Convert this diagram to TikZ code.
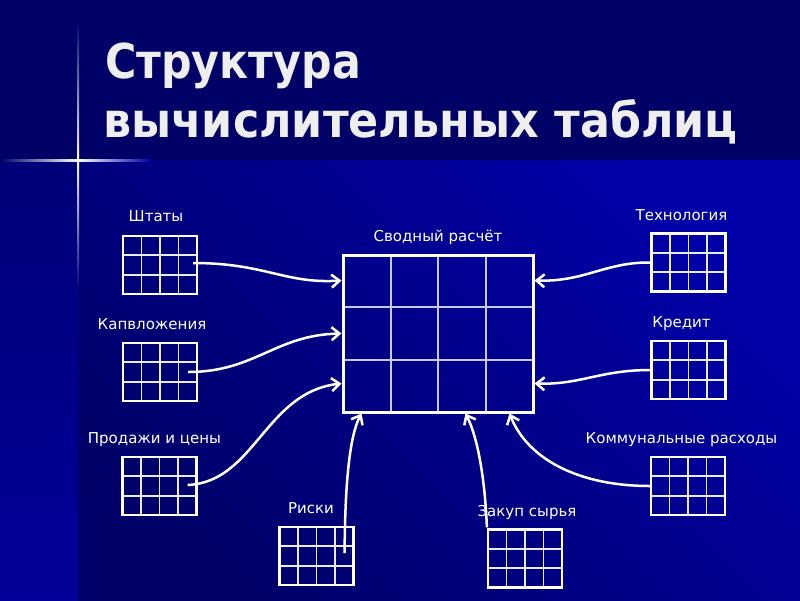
\documentclass[tikz,border=0pt]{standalone}
\usepackage{fontspec}
\setmainfont{DejaVu Sans}
\usetikzlibrary{arrows.meta,calc}
\definecolor{topbg}{HTML}{000066}
\definecolor{lowdark}{HTML}{000068}
\definecolor{lowbright}{HTML}{0000A8}
\definecolor{stripdark}{HTML}{000078}
\definecolor{stripbright}{HTML}{000098}
\definecolor{titlecol}{HTML}{EEEEEE}
\definecolor{innerline}{HTML}{C8C8E8}
\definecolor{glow}{HTML}{3A6AFF}
\begin{document}
\begin{tikzpicture}[x=1pt,y=-1pt,
  gridline/.style={line width=1.8pt,draw=white!92!blue},
  maingridline/.style={line width=2pt,draw=innerline},
  tbl/.style={draw=white,line width=2.2pt,minimum width=74pt,minimum height=58pt,inner sep=0pt,
    path picture={
      \foreach \f in {0.25,0.5,0.75}
        \draw[gridline] ($(path picture bounding box.north west)!\f!(path picture bounding box.north east)$) --
                        ($(path picture bounding box.south west)!\f!(path picture bounding box.south east)$);
      \foreach \f in {0.3333,0.6667}
        \draw[gridline] ($(path picture bounding box.north west)!\f!(path picture bounding box.south west)$) --
                        ($(path picture bounding box.north east)!\f!(path picture bounding box.south east)$);
    }},
  maintbl/.style={draw=white,line width=3pt,minimum width=190pt,minimum height=157pt,inner sep=0pt,
    path picture={
      \foreach \f in {0.25,0.5,0.75}
        \draw[maingridline] ($(path picture bounding box.north west)!\f!(path picture bounding box.north east)$) --
                        ($(path picture bounding box.south west)!\f!(path picture bounding box.south east)$);
      \foreach \f in {0.3333,0.6667}
        \draw[maingridline] ($(path picture bounding box.north west)!\f!(path picture bounding box.south west)$) --
                        ($(path picture bounding box.north east)!\f!(path picture bounding box.south east)$);
    }},
  lbl/.style={text=white,font=\fontsize{15}{18}\selectfont,inner sep=0pt,anchor=base},
  ttl/.style={text=titlecol,font=\fontsize{48}{56}\selectfont\bfseries,inner sep=0pt,anchor=base west},
  conn/.style={draw=white,line width=2.5pt,-{Straight Barb[length=8pt,width=13pt,line width=2.5pt]}}
]
\useasboundingbox (0,0) rectangle (800,600);
% background
\fill[topbg] (0,0) rectangle (800,160);
\shade[bottom color=lowdark,top color=lowbright,shading angle=-45] (78,160) rectangle (800,600);
\shade[top color=stripdark,bottom color=stripbright] (0,160) rectangle (78,600);
% glow lines
\shade[left color=topbg,right color=white] (0,159) rectangle (78,161.5);
\shade[left color=white,right color=lowbright] (78,159) rectangle (150,161.5);
\shade[top color=topbg,bottom color=white] (77,20) rectangle (79,160);
\shade[top color=white,bottom color=stripdark] (77,160) rectangle (79,290);
\fill[white] (78,160) circle (1.8);
% title
\node[ttl] (t1) at (105,78) {\scalebox{0.89}[1]{Структура}};
\node[ttl] (t2) at (103,137) {\scalebox{0.925}[1]{вычислительных таблиц}};
% tables
\node[maintbl] (main) at (438,333.5) {};
\node[tbl] (shtaty) at (160,265) {};
\node[tbl] (kap) at (160,372) {};
\node[tbl] (prod) at (159.5,486) {};
\node[tbl] (riski) at (316.5,556) {};
\node[tbl] (zakup) at (525,558.5) {};
\node[tbl] (komm) at (688,486) {};
\node[tbl] (tech) at (688.5,262.5) {};
\node[tbl] (kredit) at (688.5,370) {};
% labels
\node[lbl] (lmain) at (438,241) {Сводный расчёт};
\node[lbl] (lshtaty) at (156,221) {Штаты};
\node[lbl] (lkap) at (152,329) {Капвложения};
\node[lbl] (lprod) at (154.5,443) {Продажи и цены};
\node[lbl] (lriski) at (311,513) {Риски};
\node[lbl] (lzakup) at (527,516) {Закуп сырья};
\node[lbl] (lkomm) at (681.5,443) {Коммунальные расходы};
\node[lbl] (ltech) at (681.5,220) {Технология};
\node[lbl] (lkredit) at (681.5,327) {Кредит};
% connectors
\draw[conn] ($(shtaty.east)+(-5,-2)$) .. controls (265,263) and (285,284) .. ($(main.north west)+(0,27)$);
\draw[conn] ($(kap.east)+(-10,0)$) .. controls (255,372) and (275,335) .. ($(main.north west)+(0,80)$);
\draw[conn] ($(prod.east)+(-10,-1)$) .. controls (255,482) and (265,392) .. ($(main.north west)+(0,130)$);
\draw[conn] ($(riski.east)+(-10,-3)$) .. controls (345,480) and (350,435) .. ($(main.south west)+(20,0)$);
\draw[conn] ($(zakup.north west)+(0,-1)$) .. controls (485,480) and (478,438) .. ($(main.south west)+(124,0)$);
\draw[conn] (komm.west) .. controls (580,486) and (528,460) .. ($(main.south east)+(-25,0)$);
\draw[conn] (tech.west) .. controls (605,262) and (585,282) .. ($(main.north east)+(0,27)$);
\draw[conn] (kredit.west) .. controls (600,370) and (580,385) .. ($(main.north east)+(0,130)$);
\end{tikzpicture}
\end{document}
